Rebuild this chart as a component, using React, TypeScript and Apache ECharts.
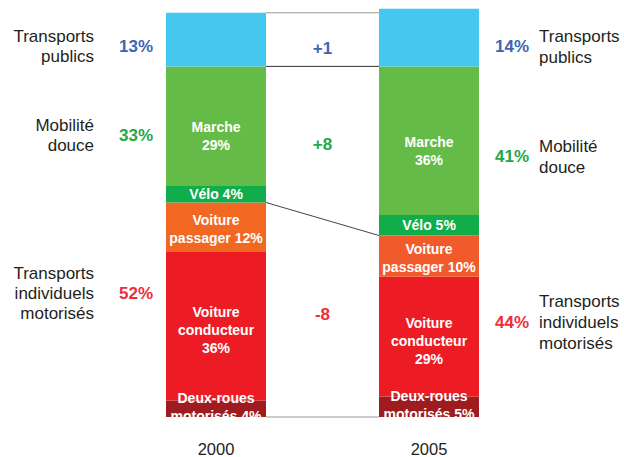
import { useEffect, useRef } from "react";
import * as echarts from "echarts";

// ---- data ----
const years = ["2000", "2005"];
// stacked bottom -> top
const modes = [
  "Deux-roues motorisés",
  "Voiture conducteur",
  "Voiture passager",
  "Vélo",
  "Marche",
  "Transports publics",
];
const share2000 = [4, 36, 12, 4, 29, 13];
const share2005 = [5, 29, 10, 5, 36, 14];
const segmentLabels = [
  "Deux-roues\nmotorisés {c}%",
  "Voiture\nconducteur\n{c}%",
  "Voiture\npassager {c}%",
  "Vélo {c}%",
  "Marche\n{c}%",
  "",
];
const groupNames = [
  "Transports\nindividuels\nmotorisés",
  "Mobilité\ndouce",
  "Transports\npublics",
];
const groupMembers = [[0, 1, 2], [3, 4], [5]];

// ---- styles ----
const FONT = "'Liberation Sans', Arial, Helvetica, sans-serif";
const BAR_W = 100;
const colors2000 = ["#9E1B20", "#ED1C24", "#F26722", "#12AD4B", "#65BB47", "#44C8F0"];
const colors2005 = ["#9E1B20", "#ED1C24", "#F15A2B", "#12AD4B", "#65BB47", "#44C8F0"];
const labelOffsets = [[0, -2], [0, 4], [0, 2], [0, 0], [0, 10], [0, 0]];
const groupColors = ["#ED2D39", "#21A84A", "#3C66B1"];
const leftDy = [-16, 1, 7];
const rightDy = [-4, 6, 9];
const deltaDy = [-4, 2, 10];
const connectorColors = ["#999999", "#333333", "#444444", "#999999"];

const sum = (arr: number[], idx: number[]) => idx.reduce((s, i) => s + arr[i], 0);

export default function App() {
  const ref = useRef<HTMLDivElement>(null);
  useEffect(() => {
    document.body.style.margin = "0";
    if (!ref.current) return;
    const chart = echarts.init(ref.current, null, { renderer: "svg" });

    const tot2000 = groupMembers.map((m) => sum(share2000, m));
    const tot2005 = groupMembers.map((m) => sum(share2005, m));
    const lo2000 = tot2000.map((_, g) => tot2000.slice(0, g).reduce((a, b) => a + b, 0));
    const lo2005 = tot2005.map((_, g) => tot2005.slice(0, g).reduce((a, b) => a + b, 0));
    const total2000 = share2000.reduce((a, b) => a + b, 0);

    // connectors: [level at 2000, level at 2005]
    const connectors: number[][] = [
      [total2000, total2000],
      [lo2000[2], lo2005[2]],
      [lo2000[1], lo2005[1]],
      [0, 0],
    ];

    const barSeries = modes.map((m, i) => ({
      type: "bar",
      name: m,
      stack: "total",
      barWidth: BAR_W,
      data: [
        { value: share2000[i], itemStyle: { color: colors2000[i] } },
        { value: share2005[i], itemStyle: { color: colors2005[i] } },
      ],
      label: {
        show: segmentLabels[i] !== "",
        position: "inside",
        offset: labelOffsets[i],
        formatter: segmentLabels[i],
        color: "#ffffff",
        fontWeight: "bold",
        fontSize: 14,
        lineHeight: 18,
        fontFamily: FONT,
      },
    }));

    const option: any = {
      animation: false,
      grid: { left: 109.5, right: 88.5, top: 4.5, bottom: 38 },
      xAxis: {
        type: "category",
        data: years,
        axisLine: { show: false },
        axisTick: { show: false },
        axisLabel: { fontSize: 16.5, color: "#231F20", margin: 23, fontFamily: FONT },
      },
      yAxis: { type: "value", min: 0, max: 100, show: false },
      series: [
        ...barSeries,
        {
          type: "custom",
          silent: true,
          z: 1,
          data: connectors.map((c) => [0, c[0]]),
          renderItem: (params: any, api: any) => {
            const c = connectors[params.dataIndex];
            const a = api.coord([0, c[0]]);
            const b = api.coord([1, c[1]]);
            return {
              type: "line",
              shape: { x1: a[0] + BAR_W / 2, y1: a[1], x2: b[0] - BAR_W / 2, y2: b[1] },
              style: { stroke: connectorColors[params.dataIndex], lineWidth: 1 },
            };
          },
        },
        {
          type: "custom",
          silent: true,
          z: 5,
          data: groupNames.map((_, g) => [0, tot2000[g]]),
          renderItem: (params: any, api: any) => {
            const g = params.dataIndex;
            const mid0 = lo2000[g] + tot2000[g] / 2;
            const mid1 = lo2005[g] + tot2005[g] / 2;
            const a = api.coord([0, mid0]);
            const b = api.coord([1, mid1]);
            const ya = a[1] + leftDy[g];
            const yb = b[1] + rightDy[g];
            const ym = (a[1] + b[1]) / 2 + deltaDy[g];
            const d = tot2005[g] - tot2000[g];
            const xl = a[0] - BAR_W / 2;
            const xr = b[0] + BAR_W / 2;
            const bold = `bold 17px ${FONT}`;
            const reg = `17px ${FONT}`;
            return {
              type: "group",
              children: [
                { type: "text", style: { text: groupNames[g], x: xl - 72, y: ya, align: "right", verticalAlign: "middle", font: reg, lineHeight: 20, fill: "#231F20" } },
                { type: "text", style: { text: `${tot2000[g]}%`, x: xl - 13, y: ya, align: "right", verticalAlign: "middle", font: bold, fill: groupColors[g] } },
                { type: "text", style: { text: `${tot2005[g]}%`, x: xr + 16, y: yb, align: "left", verticalAlign: "middle", font: bold, fill: groupColors[g] } },
                { type: "text", style: { text: groupNames[g], x: xr + 60, y: yb, align: "left", verticalAlign: "middle", font: reg, lineHeight: 21, fill: "#231F20" } },
                { type: "text", style: { text: `${d > 0 ? "+" : ""}${d}`, x: (a[0] + b[0]) / 2, y: ym, align: "center", verticalAlign: "middle", font: bold, fill: groupColors[g] } },
              ],
            };
          },
        },
      ],
    };
    chart.setOption(option);
    return () => chart.dispose();
  }, []);
  return <div ref={ref} style={{ width: 624, height: 457 }} />;
}
